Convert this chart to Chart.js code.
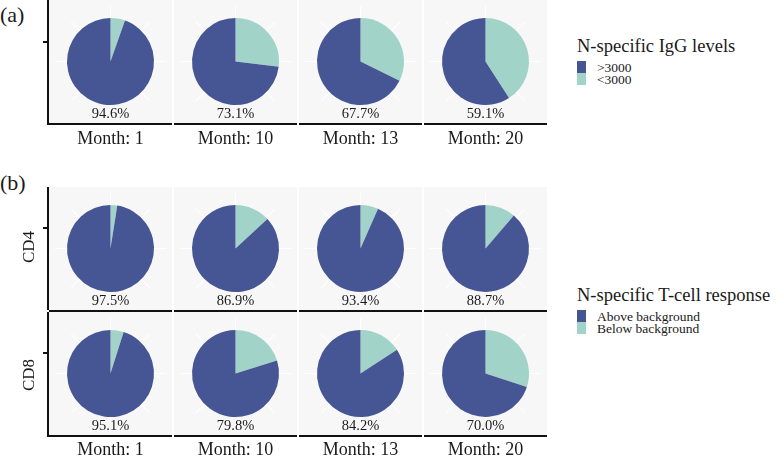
<!DOCTYPE html>
<html>
<head>
<meta charset="utf-8">
<script src="https://cdn.jsdelivr.net/npm/chart.js@4"></script>
<style>
  body { margin: 0; width: 777px; height: 456px; background: #fff; position: relative; overflow: hidden;
         font-family: "Liberation Serif", "Times New Roman", serif; color: #1a1a1a; }
  .abs { position: absolute; }
  .panel { position: absolute; width: 123px; height: 123px; background: #f8f7f7; }
  .pct { position: absolute; width: 123px; text-align: center; font-size: 14.5px; line-height: 14px; }
  .month { position: absolute; width: 123px; text-align: center; font-size: 18px; line-height: 18px; }
  .vline { position: absolute; width: 2px; background: #111; }
  .hline { position: absolute; height: 2px; background: #111; }
  .tick { position: absolute; width: 4px; height: 2px; background: #111; }
  .key { position: absolute; width: 9px; height: 12px; }
  .ltxt { position: absolute; font-size: 13.5px; line-height: 13px; }
  .ltitle { position: absolute; font-size: 18.5px; line-height: 18px; }
</style>
</head>
<body>
<script>
// Chart values
const months = ['Month: 1', 'Month: 10', 'Month: 13', 'Month: 20'];
const iggAbove = [94.6, 73.1, 67.7, 59.1];
const cd4Above = [97.5, 86.9, 93.4, 88.7];
const cd8Above = [95.1, 79.8, 84.2, 70.0];
const iggLegend = ['>3000', '<3000'];
const tcellLegend = ['Above background', 'Below background'];

const blue = '#465594';
const teal = '#a1d3c9';
const panelX = [49, 174, 299, 424];

// faint white spokes of the polar grid, behind the pie
const spokes = {
  id: 'spokes',
  beforeDatasetsDraw(chart) {
    const arc = chart.getDatasetMeta(0).data[0];
    const ctx = chart.ctx;
    ctx.save();
    ctx.strokeStyle = '#ffffff';
    ctx.lineWidth = 1.2;
    for (let i = 0; i < 8; i++) {
      const a = i * Math.PI / 4;
      ctx.beginPath();
      ctx.moveTo(arc.x, arc.y);
      ctx.lineTo(arc.x + Math.cos(a) * arc.outerRadius * 1.28, arc.y + Math.sin(a) * arc.outerRadius * 1.28);
      ctx.stroke();
    }
    ctx.restore();
  }
};

function add(cls, style, text) {
  const d = document.createElement('div');
  d.className = cls;
  Object.assign(d.style, style);
  if (text !== undefined) d.textContent = text;
  document.body.appendChild(d);
  return d;
}

function pieRow(values, top) {
  values.forEach((v, i) => {
    const p = add('panel', { left: panelX[i] + 'px', top: top + 'px' });
    const c = document.createElement('canvas');
    p.appendChild(c);
    new Chart(c.getContext('2d'), {
      type: 'pie',
      data: {
        labels: ['below', 'above'],
        datasets: [{ data: [+(100 - v).toFixed(1), v], backgroundColor: [teal, blue], borderWidth: 0 }]
      },
      options: {
        responsive: true,
        maintainAspectRatio: false,
        animation: false,
        layout: { padding: 18 },
        plugins: { legend: { display: false }, tooltip: { enabled: false } },
        events: []
      },
      plugins: [spokes]
    });
    add('pct', { left: panelX[i] + 'px', top: (top + 106) + 'px' }, v.toFixed(1) + '%');
    add('hline', { left: panelX[i] + 'px', top: (top + 123) + 'px', width: '123px' });
  });
}

function legend(title, labels, top) {
  add('ltitle', { left: '577px', top: top + 'px' }, title);
  labels.forEach((l, i) => {
    add('key', { left: '577px', top: (top + 24 + i * 12) + 'px', background: i === 0 ? blue : teal });
    add('ltxt', { left: '597px', top: (top + 24 + i * 12) + 'px' }, l);
  });
}

// (a) IgG
add('abs', { left: '0px', top: '2px', fontSize: '22px' }, '(a)');
pieRow(iggAbove, 0);
add('vline', { left: '47px', top: '0px', height: '125px' });
add('tick', { left: '43px', top: '41px' });
months.forEach((m, i) => add('month', { left: panelX[i] + 'px', top: '129px' }, m));
legend('N-specific IgG levels', iggLegend, 37);

// (b) T-cell
add('abs', { left: '0px', top: '170px', fontSize: '22px' }, '(b)');
pieRow(cd4Above, 187);
pieRow(cd8Above, 312);
add('vline', { left: '47px', top: '187px', height: '123px' });
add('vline', { left: '47px', top: '312px', height: '125px' });
add('tick', { left: '43px', top: '227px' });
add('tick', { left: '43px', top: '352px' });
add('abs', { left: '11px', top: '237px', fontSize: '17px', transform: 'rotate(-90deg)', width: '36px', textAlign: 'center' }, 'CD4');
add('abs', { left: '11px', top: '365px', fontSize: '17px', transform: 'rotate(-90deg)', width: '36px', textAlign: 'center' }, 'CD8');
months.forEach((m, i) => add('month', { left: panelX[i] + 'px', top: '440px' }, m));
legend('N-specific T-cell response', tcellLegend, 286);
</script>
</body>
</html>
